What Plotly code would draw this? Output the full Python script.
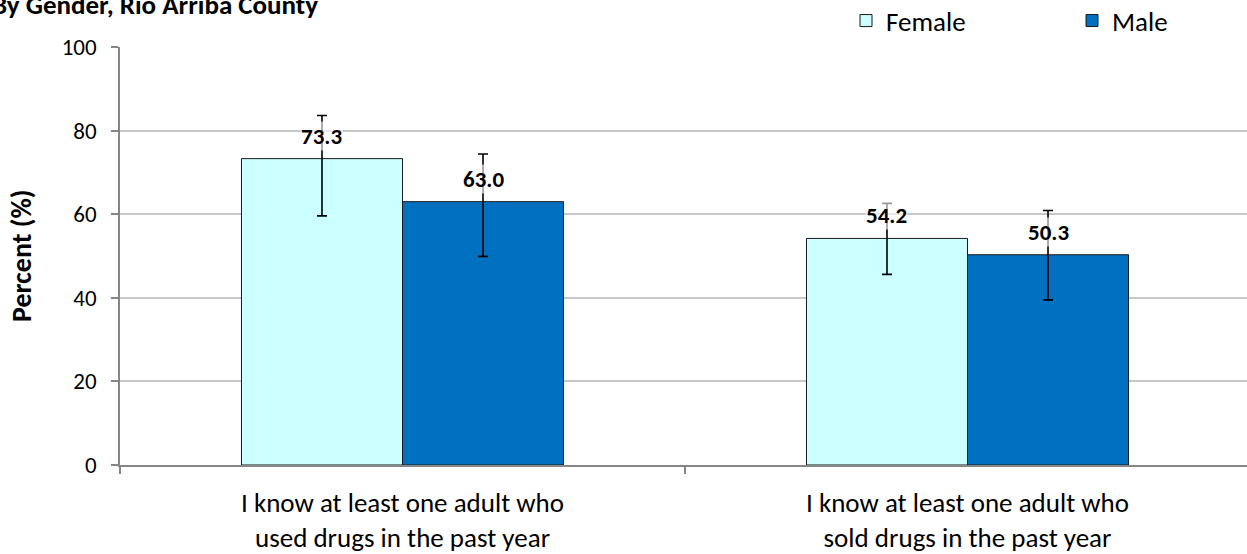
import plotly.graph_objects as go

categories = ["I know at least one adult who<br>used drugs in the past year",
              "I know at least one adult who<br>sold drugs in the past year"]
female = [73.3, 54.2]
male = [63.0, 50.3]
female_err_plus = [10.3, 8.4]
female_err_minus = [13.7, 8.6]
male_err_plus = [11.4, 10.6]
male_err_minus = [13.1, 10.8]
y_ticks = [0, 20, 40, 60, 80, 100]

FONT = "Carlito, Lato, sans-serif"
W, H = 1247, 554
ML, MR, MT, MB = 120, 0, 47, 89
PW = W - ML - MR
PH = H - MT - MB

fig = go.Figure()
fig.add_trace(go.Bar(
    name="Female", x=categories, y=female,
    marker=dict(color="#CCFFFF", line=dict(color="#1a1a1a", width=1)),
    error_y=dict(type="data", array=female_err_plus, arrayminus=female_err_minus,
                 color="#000000", thickness=1.6, width=5),
))
fig.add_trace(go.Bar(
    name="Male", x=categories, y=male,
    marker=dict(color="#0070C0", line=dict(color="#1a1a1a", width=1)),
    error_y=dict(type="data", array=male_err_plus, arrayminus=male_err_minus,
                 color="#000000", thickness=1.6, width=5),
))

bar_w = 0.285
px_per_cat = 565
for vals, sgn in ((female, -1), (male, 1)):
    for c, v in zip(categories, vals):
        fig.add_annotation(
            x=c, y=v, xref="x", yref="y", text=f"<b>{v:.1f}</b>",
            showarrow=False, xshift=sgn * bar_w * px_per_cat / 2, yshift=23,
            yanchor="middle", font=dict(family=FONT, size=23, color="#000000"),
            bgcolor="rgba(255,255,255,0.6)", borderpad=0,
        )

fig.add_annotation(
    text="<b>Percent (%)</b>", textangle=-90, xref="paper", yref="paper",
    x=(21 - ML) / PW, y=0.5, xanchor="center", yanchor="middle", showarrow=False,
    font=dict(family=FONT, size=28, color="#000000"),
)

fig.update_layout(
    width=W, height=H,
    margin=dict(l=ML, r=MR, t=MT, b=MB, autoexpand=False),
    paper_bgcolor="white", plot_bgcolor="white",
    barmode="group", bargap=1 - 2 * bar_w, bargroupgap=0,
    title=dict(text="<b>By Gender, Rio Arriba County</b>", xref="container", yref="container",
               x=318 / W, xanchor="right", y=1 - 5 / H, yanchor="middle",
               font=dict(family=FONT, size=27, color="#000000")),
    legend=dict(orientation="h", xref="container", yref="container",
                x=846 / W, xanchor="left", y=1 - 21 / H, yanchor="middle",
                entrywidth=181, entrywidthmode="pixels",
                font=dict(family=FONT, size=27, color="#000000"),
                bgcolor="rgba(0,0,0,0)", borderwidth=0),
    xaxis=dict(range=[-0.5, -0.5 + PW / px_per_cat], tickson="boundaries",
               ticks="outside", ticklen=7, tickcolor="#868686", tickwidth=1.5,
               showline=True, linecolor="#868686", linewidth=1.5,
               showgrid=False, tickfont=dict(family=FONT, size=27, color="#000000"),
               ticklabelstandoff=13),
    yaxis=dict(range=[0, 100], tickvals=y_ticks, ticks="outside", ticklen=7,
               tickcolor="#868686", tickwidth=1.5,
               showline=True, linecolor="#868686", linewidth=1.5,
               showgrid=True, gridcolor="#C8C8C8", gridwidth=1.5, zeroline=False,
               tickfont=dict(family=FONT, size=23, color="#000000"),
               ticklabelstandoff=10),
)

fig.write_html("out.html", config={"displayModeBar": False},
               post_script="document.body.style.margin='0px';")
